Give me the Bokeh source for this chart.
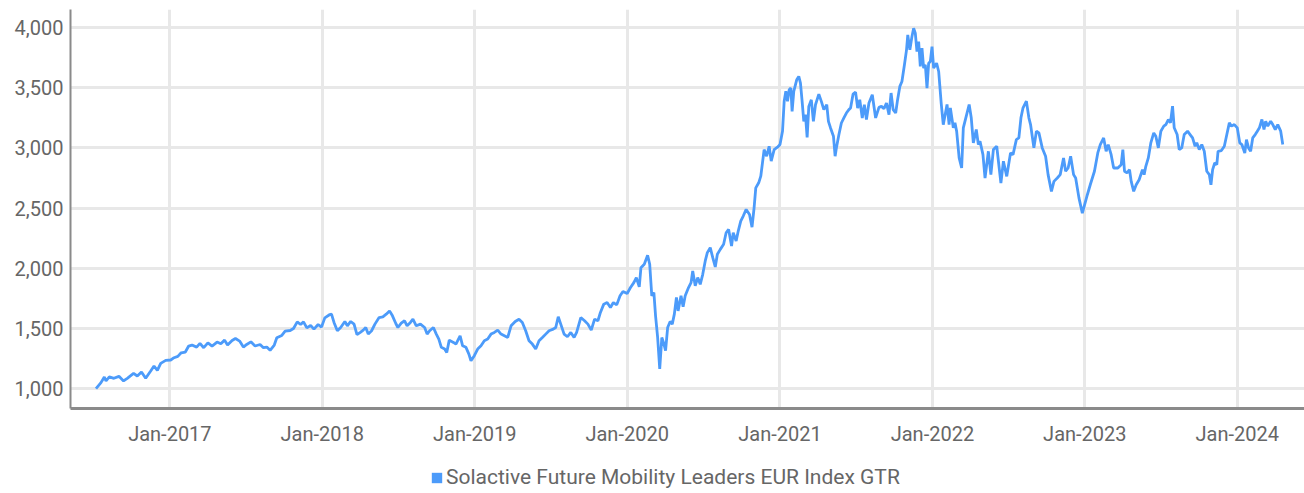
import pandas as pd
from bokeh.plotting import figure
from bokeh.layouts import column
from bokeh.models import Range1d, FixedTicker, Legend, LegendItem, NumeralTickFormatter, ColumnDataSource
from bokeh.embed import file_html
from bokeh.resources import INLINE

series_name = "Solactive Future Mobility Leaders EUR Index GTR"

dates_a = ["2016-07-08", "2016-07-20", "2016-07-28", "2016-08-01", "2016-08-09", "2016-08-20", "2016-09-01", "2016-09-12",
           "2016-09-21", "2016-10-06", "2016-10-15", "2016-10-25", "2016-11-04", "2016-11-16", "2016-11-24", "2016-12-02",
           "2016-12-10", "2016-12-22",
           "2017-01-03", "2017-01-11", "2017-01-20", "2017-01-28", "2017-02-07", "2017-02-15", "2017-02-23", "2017-03-06",
           "2017-03-14", "2017-03-23", "2017-04-02", "2017-04-12", "2017-04-24", "2017-05-03", "2017-05-12", "2017-05-19",
           "2017-05-30", "2017-06-07", "2017-06-17", "2017-06-26", "2017-07-04", "2017-07-14", "2017-07-24", "2017-08-05",
           "2017-08-13", "2017-08-21", "2017-08-29", "2017-09-08", "2017-09-14", "2017-09-26", "2017-10-04", "2017-10-16",
           "2017-10-24", "2017-11-02", "2017-11-10", "2017-11-17", "2017-11-25", "2017-12-04", "2017-12-12", "2017-12-22",
           "2017-12-30", "2018-01-07", "2018-01-19"]
values_a = [1000, 1050, 1097, 1064, 1097, 1086, 1102, 1064, 1086, 1127, 1105, 1138, 1086, 1146, 1188, 1152, 1210, 1235,
            1238, 1257, 1268, 1298, 1304, 1354, 1362, 1345, 1376, 1340, 1381, 1354, 1387, 1373, 1403, 1362, 1400, 1417,
            1395, 1345, 1367, 1389, 1354, 1367, 1340, 1345, 1318, 1362, 1423, 1442, 1478, 1483, 1500, 1555, 1533, 1555,
            1505, 1525, 1494, 1533, 1511, 1588, 1616]

dates_b = ["2018-01-23", "2018-01-29", "2018-02-06", "2018-02-14", "2018-02-24", "2018-03-02", "2018-03-10", "2018-03-18",
           "2018-03-25", "2018-04-02", "2018-04-09", "2018-04-15", "2018-04-21", "2018-04-29", "2018-05-07", "2018-05-17",
           "2018-05-26", "2018-06-03", "2018-06-11", "2018-06-18", "2018-06-26", "2018-07-01", "2018-07-09", "2018-07-17",
           "2018-07-23", "2018-07-31", "2018-08-06", "2018-08-14", "2018-08-24", "2018-09-03", "2018-09-09", "2018-09-15",
           "2018-09-24", "2018-10-01", "2018-10-07", "2018-10-13", "2018-10-21", "2018-10-26", "2018-11-01", "2018-11-11",
           "2018-11-17", "2018-11-27", "2018-12-03", "2018-12-11", "2018-12-18", "2018-12-23", "2018-12-31", "2019-01-08",
           "2019-01-16", "2019-01-24", "2019-02-01", "2019-02-09", "2019-02-17", "2019-02-25", "2019-03-05", "2019-03-13",
           "2019-03-21", "2019-03-29", "2019-04-08", "2019-04-17", "2019-04-25", "2019-05-03", "2019-05-11", "2019-05-19",
           "2019-05-27", "2019-06-04", "2019-06-12", "2019-06-20", "2019-06-28", "2019-07-08", "2019-07-14", "2019-07-20",
           "2019-07-26", "2019-08-03", "2019-08-11"]
values_b = [1619, 1550, 1481, 1508, 1558, 1522, 1558, 1536, 1448, 1467, 1486, 1508, 1453, 1481, 1536, 1591, 1597, 1619,
            1646, 1605, 1541, 1508, 1544, 1564, 1522, 1550, 1577, 1522, 1536, 1508, 1453, 1481, 1508, 1453, 1412, 1343,
            1329, 1301, 1403, 1384, 1370, 1439, 1356, 1343, 1287, 1232, 1274, 1329, 1356, 1398, 1412, 1453, 1467, 1486,
            1453, 1439, 1425, 1522, 1558, 1577, 1550, 1481, 1398, 1370, 1329, 1398, 1425, 1453, 1481, 1494, 1508, 1597,
            1536, 1453, 1431]

dates_c = ["2019-08-19", "2019-08-27", "2019-09-02", "2019-09-12", "2019-09-21", "2019-09-29", "2019-10-07", "2019-10-15",
           "2019-10-23", "2019-10-29", "2019-11-06", "2019-11-14", "2019-11-22", "2019-11-29", "2019-12-07", "2019-12-15",
           "2019-12-22", "2020-01-01", "2020-01-09", "2020-01-17", "2020-01-23", "2020-01-30", "2020-02-03", "2020-02-11",
           "2020-02-19", "2020-02-24", "2020-02-29", "2020-03-05", "2020-03-09", "2020-03-14", "2020-03-19", "2020-03-24",
           "2020-03-28", "2020-04-02", "2020-04-07", "2020-04-13", "2020-04-18", "2020-04-23", "2020-04-28", "2020-05-02",
           "2020-05-09", "2020-05-14", "2020-05-19", "2020-05-27", "2020-06-02", "2020-06-06", "2020-06-12", "2020-06-18",
           "2020-06-24", "2020-06-30", "2020-07-06", "2020-07-11", "2020-07-18", "2020-07-24", "2020-07-30", "2020-08-04",
           "2020-08-11", "2020-08-19", "2020-08-25", "2020-08-31", "2020-09-07", "2020-09-11", "2020-09-18", "2020-09-23",
           "2020-09-29", "2020-10-05", "2020-10-12", "2020-10-20", "2020-10-26", "2020-10-31", "2020-11-04", "2020-11-11",
           "2020-11-16"]
values_c = [1467, 1425, 1467, 1591, 1564, 1536, 1486, 1577, 1564, 1633, 1702, 1715, 1674, 1715, 1696, 1771, 1807, 1790,
            1840, 1881, 1923, 1845, 2005, 2033, 2108, 2033, 1771, 1798, 1605, 1425, 1163, 1425, 1384, 1315, 1508, 1558,
            1536, 1619, 1757, 1646, 1771, 1680, 1771, 1840, 1881, 1978, 1854, 1923, 1867, 1950, 2061, 2130, 2171, 2088,
            2011, 2116, 2157, 2199, 2295, 2323, 2185, 2295, 2226, 2309, 2392, 2434, 2489, 2447, 2342, 2503, 2668, 2710,
            2765]

dates_d = ["2020-11-24", "2020-11-30", "2020-12-06", "2020-12-11", "2020-12-18", "2020-12-26", "2021-01-01", "2021-01-07",
           "2021-01-11", "2021-01-15", "2021-01-19", "2021-01-23", "2021-01-27", "2021-01-30", "2021-02-03", "2021-02-10",
           "2021-02-15", "2021-02-19", "2021-02-23", "2021-02-27", "2021-03-03", "2021-03-07", "2021-03-11", "2021-03-17",
           "2021-03-22", "2021-03-27", "2021-04-04", "2021-04-10", "2021-04-16", "2021-04-23", "2021-04-27", "2021-05-02",
           "2021-05-09", "2021-05-13", "2021-05-16", "2021-05-22", "2021-05-28", "2021-06-03", "2021-06-09", "2021-06-15",
           "2021-06-19", "2021-06-25", "2021-07-01", "2021-07-06", "2021-07-11", "2021-07-17", "2021-07-22", "2021-07-27",
           "2021-08-02", "2021-08-10", "2021-08-18", "2021-08-26", "2021-09-01", "2021-09-07", "2021-09-13", "2021-09-19",
           "2021-09-24", "2021-09-29", "2021-10-05", "2021-10-09", "2021-10-15", "2021-10-20", "2021-10-26", "2021-10-31",
           "2021-11-03", "2021-11-08", "2021-11-13", "2021-11-17", "2021-11-21", "2021-11-25", "2021-11-29", "2021-12-03",
           "2021-12-07", "2021-12-11", "2021-12-15", "2021-12-19", "2021-12-23", "2021-12-27", "2021-12-31", "2022-01-04",
           "2022-01-11", "2022-01-16", "2022-01-22", "2022-01-27"]
values_d = [2986, 2931, 3014, 2890, 2986, 3006, 3028, 3138, 3387, 3470, 3387, 3483, 3497, 3304, 3470, 3566, 3594, 3539,
            3387, 3221, 3276, 3088, 3345, 3400, 3221, 3359, 3447, 3387, 3318, 3359, 3221, 3166, 3097, 2931, 3000, 3110,
            3207, 3249, 3290, 3318, 3331, 3447, 3464, 3331, 3400, 3249, 3359, 3235, 3373, 3442, 3249, 3337, 3345, 3326,
            3373, 3276, 3456, 3318, 3290, 3387, 3511, 3552, 3691, 3815, 3939, 3815, 3925, 3994, 3953, 3801, 3884, 3677,
            3829, 3663, 3691, 3497, 3704, 3718, 3842, 3663, 3704, 3635, 3373, 3193]

dates_e = ["2022-02-05", "2022-02-10", "2022-02-13", "2022-02-20", "2022-02-24", "2022-02-28", "2022-03-06", "2022-03-12",
           "2022-03-16", "2022-03-22", "2022-03-30", "2022-04-04", "2022-04-09", "2022-04-16", "2022-04-21", "2022-04-25",
           "2022-05-02", "2022-05-07", "2022-05-15", "2022-05-21", "2022-05-27", "2022-06-04", "2022-06-14", "2022-06-20",
           "2022-06-28", "2022-07-07", "2022-07-13", "2022-07-21", "2022-07-27", "2022-08-01", "2022-08-06", "2022-08-14",
           "2022-08-20", "2022-08-24", "2022-09-01", "2022-09-07", "2022-09-13", "2022-09-21", "2022-09-29", "2022-10-05",
           "2022-10-13", "2022-10-19", "2022-10-27", "2022-11-03", "2022-11-11", "2022-11-16", "2022-11-22", "2022-11-28",
           "2022-12-05", "2022-12-10", "2022-12-18", "2022-12-26", "2023-01-07", "2023-01-14", "2023-01-24", "2023-02-01",
           "2023-02-07", "2023-02-15", "2023-02-21", "2023-02-26", "2023-03-05", "2023-03-11", "2023-03-21", "2023-03-29"]
values_e = [3361, 3194, 3333, 3167, 3208, 3139, 2917, 2833, 3167, 3250, 3361, 3250, 3042, 3153, 3028, 3056, 2944, 2750,
            2972, 2778, 2986, 3014, 2708, 2889, 2764, 2958, 2944, 3069, 3083, 3250, 3333, 3389, 3250, 3194, 3000, 3139,
            3125, 3000, 2931, 2778, 2639, 2722, 2750, 2778, 2917, 2806, 2833, 2931, 2778, 2750, 2583, 2458, 2611, 2694,
            2806, 2958, 3028, 3083, 2972, 3028, 2944, 2833, 2833, 2861]

dates_f = ["2023-04-02", "2023-04-06", "2023-04-12", "2023-04-18", "2023-04-22", "2023-04-28", "2023-05-04", "2023-05-11",
           "2023-05-19", "2023-05-23", "2023-05-27", "2023-06-02", "2023-06-08", "2023-06-15", "2023-06-20", "2023-06-26",
           "2023-07-02", "2023-07-09", "2023-07-14", "2023-07-20", "2023-07-25", "2023-07-30", "2023-08-03", "2023-08-10",
           "2023-08-15", "2023-08-21", "2023-08-27", "2023-09-04", "2023-09-10", "2023-09-16", "2023-09-22", "2023-09-26",
           "2023-10-02", "2023-10-08", "2023-10-14", "2023-10-20", "2023-10-26", "2023-10-30", "2023-11-03", "2023-11-08",
           "2023-11-13", "2023-11-16", "2023-11-24", "2023-12-01", "2023-12-07", "2023-12-13", "2023-12-18", "2023-12-25",
           "2024-01-01", "2024-01-07", "2024-01-12", "2024-01-19", "2024-01-23", "2024-01-28", "2024-02-02", "2024-02-07",
           "2024-02-13", "2024-02-18", "2024-02-23", "2024-02-29", "2024-03-05", "2024-03-09", "2024-03-14", "2024-03-21",
           "2024-03-26", "2024-04-01", "2024-04-07", "2024-04-14", "2024-04-19"]
values_f = [2986, 2806, 2792, 2819, 2722, 2639, 2694, 2736, 2819, 2778, 2847, 2917, 3042, 3125, 3097, 3000, 3139, 3181,
            3194, 3236, 3208, 3347, 3167, 3111, 2986, 3000, 3111, 3139, 3111, 3083, 3014, 3042, 2986, 3028, 2972, 2806,
            2778, 2694, 2819, 2875, 2861, 2972, 2978, 3014, 3111, 3208, 3181, 3194, 3167, 3042, 3028, 2958, 3069, 3000,
            2972, 3083, 3111, 3139, 3167, 3236, 3153, 3222, 3181, 3222, 3194, 3153, 3194, 3139, 3028]

tick_dates = ["2017-01-01", "2018-01-01", "2019-01-01", "2020-01-01", "2021-01-01", "2022-01-01", "2023-01-01", "2024-01-01"]
tick_labels = ["Jan-2017", "Jan-2018", "Jan-2019", "Jan-2020", "Jan-2021", "Jan-2022", "Jan-2023", "Jan-2024"]
y_ticks = [1000, 1500, 2000, 2500, 3000, 3500, 4000]

all_dates = dates_a + dates_b + dates_c + dates_d + dates_e + dates_f
all_values = values_a + values_b + values_c + values_d + values_e + values_f
source = ColumnDataSource(data=dict(date=pd.to_datetime(all_dates), value=all_values))

FONT = "Roboto"
TEXT_COLOR = "#666666"
LINE_COLOR = "#4c9bfa"

p = figure(width=1304, height=453, x_axis_type="datetime", output_backend="svg", toolbar_location=None,
           x_range=Range1d(pd.Timestamp("2016-05-08"), pd.Timestamp("2024-06-10")),
           y_range=Range1d(835, 4150),
           min_border_left=70, min_border_right=0, min_border_top=9, min_border_bottom=45)
p.outline_line_color = None

p.line("date", "value", source=source, line_color=LINE_COLOR, line_width=2.8)

tick_ms = [int(pd.Timestamp(d).value // 10**6) for d in tick_dates]
p.xaxis.ticker = FixedTicker(ticks=tick_ms)
p.xaxis.major_label_overrides = {ms: lab for ms, lab in zip(tick_ms, tick_labels)}
p.yaxis.ticker = FixedTicker(ticks=y_ticks)
p.yaxis.formatter = NumeralTickFormatter(format="0,0")

for ax in (p.xaxis[0], p.yaxis[0]):
    ax.major_tick_line_color = None
    ax.minor_tick_line_color = None
    ax.major_tick_out = 0
    ax.major_tick_in = 0
    ax.axis_line_color = "#8a8a8a"
    ax.major_label_text_font = FONT
    ax.major_label_text_font_size = "20px"
    ax.major_label_text_color = TEXT_COLOR
p.xaxis.axis_line_width = 3
p.yaxis.axis_line_width = 2
p.xaxis.major_label_standoff = 13
p.yaxis.major_label_standoff = 7

p.xgrid.grid_line_color = "#e8e8e8"
p.xgrid.grid_line_width = 3
p.ygrid.grid_line_color = "#e8e8e8"
p.ygrid.grid_line_width = 3

# legend strip below the chart: the series is drawn there as (off-view) quads only to give the legend its square swatch
lg = figure(width=1304, height=40, output_backend="svg", toolbar_location=None,
            x_axis_location=None, y_axis_location=None,
            x_range=Range1d(0, 1), y_range=Range1d(0, 1),
            min_border_left=0, min_border_right=0, min_border_top=0, min_border_bottom=0)
lg.outline_line_color = None
lg.grid.visible = False
swatch = lg.quad(left="date", right="date", top="value", bottom="value", source=source,
                 fill_color=LINE_COLOR, line_color=None)
legend = Legend(items=[LegendItem(label=series_name, renderers=[swatch])],
                location=(360, 4), orientation="horizontal",
                glyph_width=13, glyph_height=13, label_standoff=3, padding=0, margin=0,
                border_line_color=None, background_fill_alpha=0,
                label_text_font=FONT, label_text_font_size="21px", label_text_color=TEXT_COLOR)
lg.add_layout(legend, "center")

layout = column(p, lg, spacing=0)
open("out.html", "w").write(file_html(layout, INLINE))
